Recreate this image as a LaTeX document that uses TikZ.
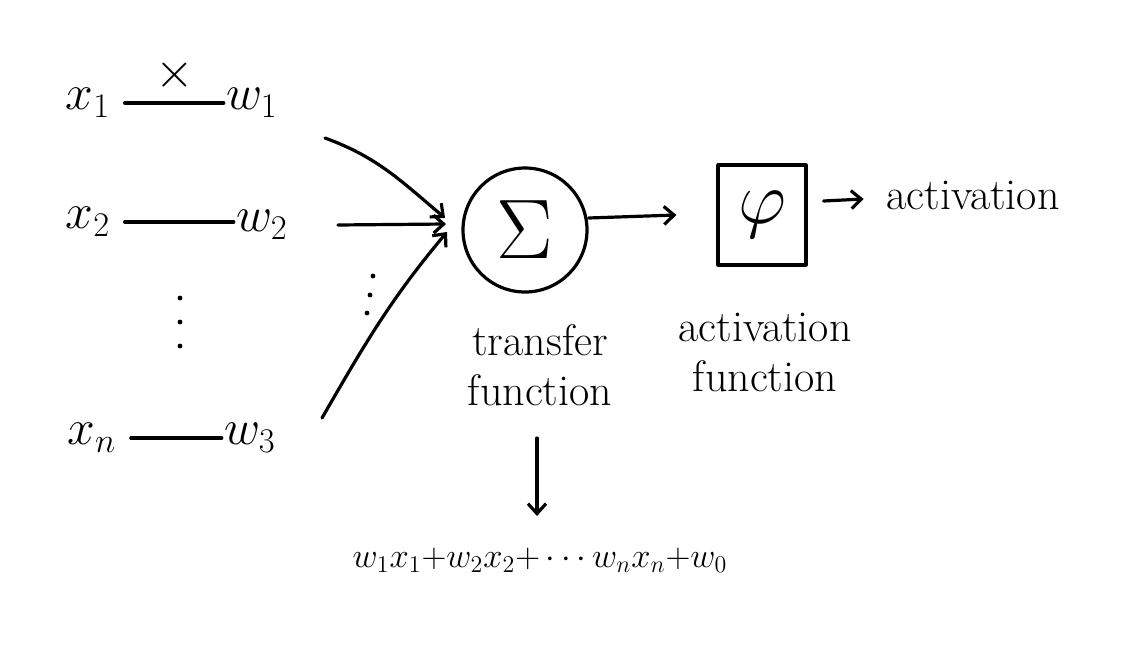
\documentclass[tikz,border=0pt]{standalone}
\usepackage{graphicx}
\usetikzlibrary{arrows.meta,calc}
\begin{document}
\begin{tikzpicture}[x=0.5pt,y=-0.5pt,
  ink/.style={line width=1.6pt,line cap=round,line join=round},
  arr/.style={ink,-{Straight Barb[length=5pt,width=9pt]}},
  lbl/.style={font=\fontsize{24}{28}\selectfont,inner sep=1pt},
  word/.style={font=\fontsize{22}{25}\selectfont,align=center,inner sep=1pt},
  dotmark/.style={fill,circle,inner sep=0pt,minimum size=2.4pt}]
\useasboundingbox (0,0) rectangle (1141,653);
% inputs
\node[lbl] (x1) at (88,103) {$x_1$};
\node[lbl] (w1) at (252,103) {$w_1$};
\node[lbl] (x2) at (88,222) {$x_2$};
\node[lbl] (w2) at (262,225) {$w_2$};
\node[lbl] (xn) at (92,438) {$x_n$};
\node[lbl] (w3) at (250,438) {$w_3$};
\node[lbl] (times) at (175,75) {$\times$};
\node[dotmark] (d1) at (180,298) {};
\node[dotmark] (d2) at (180,322) {};
\node[dotmark] (d3) at (180,346) {};
\node[dotmark] (e1) at (373,276) {};
\node[dotmark] (e2) at (370,295) {};
\node[dotmark] (e3) at (367,313) {};
\draw[ink] (x1.east) ++(12,0) coordinate (a1) -- (a1 -| w1.west);
\draw[ink] (x2.east) ++(12,0) coordinate (a2) -- (a2 -| w2.west);
\draw[ink] (xn.east) ++(12,0) coordinate (a3) -- (a3 -| w3.west);
% summation node
\node[ink,draw,circle,minimum size=62pt,inner sep=0pt,font=\fontsize{24}{28}\selectfont] (sum) at (525,230) {\scalebox{1.7}{$\Sigma$}};
\coordinate (in1) at (445,218);
\coordinate (in2) at (446,224);
\coordinate (in3) at (447,232);
\draw[arr] (325,138) to[out=-20,in=140] (in1);
\draw[arr] (338,225) -- (in2);
\draw[arr] (322,418) to[out=60,in=-130] (in3);
% activation box
\node[ink,draw,minimum width=44pt,minimum height=50pt,inner sep=0pt,font=\fontsize{24}{28}\selectfont] (phi) at (762,215) {\scalebox{1.5}{$\varphi$}};
\draw[arr] ($(sum.east)+(0,-12)$) -- ($(phi.west)+(-40,0)$);
\draw[arr] ($(phi.east)+(16,-14)$) -- ($(phi.east)+(56,-16)$);
\node[word,anchor=west] (act) at (884,195) {activation};
% labels
\node[word] (tf) at (540,365) {transfer\\function};
\node[word] (af) at (765,352) {activation\\function};
\draw[arr] ($(tf.south)+(-3,30)$) -- ($(tf.south)+(-3,108)$);
\node[font=\fontsize{17}{20}\selectfont,inner sep=1pt] (formula) at (540,560) {$w_1x_1{+}w_2x_2{+}\cdots w_nx_n{+}w_0$};
\end{tikzpicture}
\end{document}
